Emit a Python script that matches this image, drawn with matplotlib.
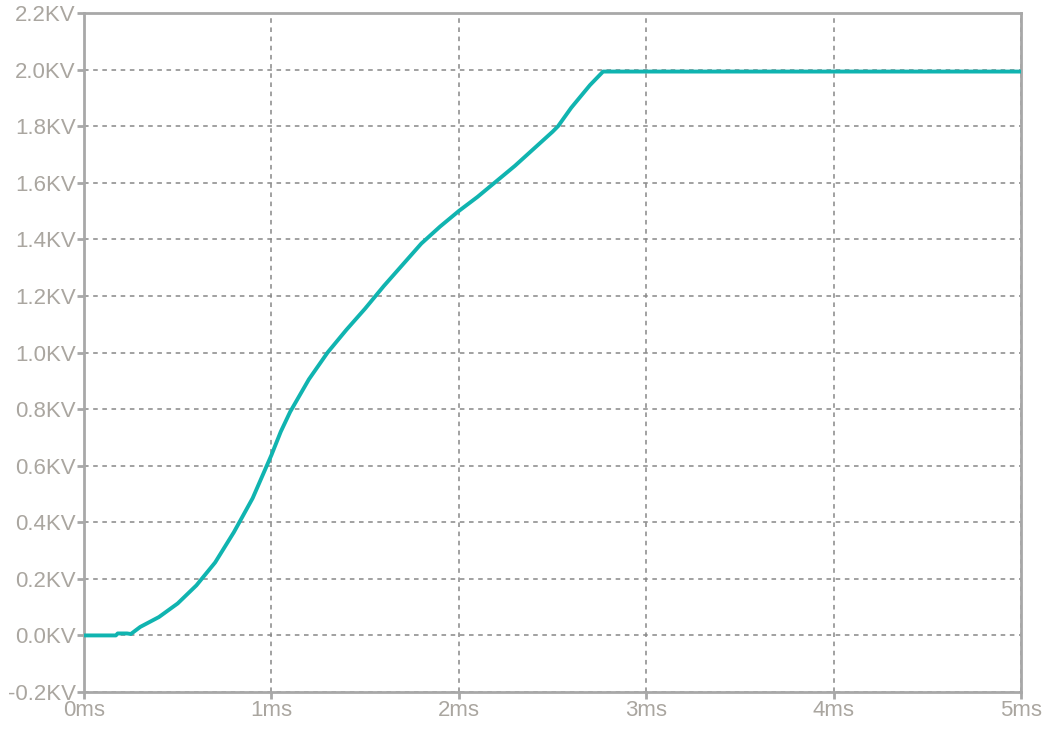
import matplotlib
matplotlib.use("Agg")
import matplotlib.pyplot as plt
from matplotlib.ticker import FuncFormatter

# waveform (time in ms, voltage in KV)
t_ms = [0.0, 0.17, 0.18, 0.23, 0.25, 0.3, 0.4, 0.5, 0.6, 0.7, 0.8, 0.9, 1.0,
        1.05, 1.1, 1.2, 1.3, 1.4, 1.5, 1.6, 1.7, 1.8, 1.9, 2.0, 2.1, 2.2,
        2.3, 2.4, 2.5, 2.53, 2.6, 2.7, 2.77, 3.0, 4.0, 5.0]
v_kv = [0.0, 0.0, 0.007, 0.007, 0.005, 0.03, 0.065, 0.113, 0.177, 0.258,
        0.365, 0.485, 0.637, 0.72, 0.79, 0.905, 1.0, 1.08, 1.155, 1.235,
        1.31, 1.385, 1.445, 1.5, 1.55, 1.605, 1.66, 1.72, 1.78, 1.8,
        1.865, 1.945, 1.993, 1.993, 1.993, 1.993]

x_ticks = [0, 1, 2, 3, 4, 5]
y_ticks = [-0.2, 0.0, 0.2, 0.4, 0.6, 0.8, 1.0, 1.2, 1.4, 1.6, 1.8, 2.0, 2.2]

plt.rcParams['font.family'] = ['Liberation Sans', 'DejaVu Sans']

fig = plt.figure(figsize=(10.42, 7.34), dpi=100)
ax = fig.add_axes([0.0806, 0.0572, 0.8992, 0.9251])

ax.plot(t_ms, v_kv, color="#10b4b0", lw=2.8, solid_joinstyle="round",
        solid_capstyle="round", zorder=3)

ax.set_xlim(0, 5)
ax.set_ylim(-0.2, 2.2)
ax.set_xticks(x_ticks)
ax.set_yticks(y_ticks)
ax.xaxis.set_major_formatter(FuncFormatter(lambda v, p: "%dms" % round(v)))
ax.yaxis.set_major_formatter(FuncFormatter(lambda v, p: "%.1fKV" % v))

ax.grid(True, color="#888888", lw=1.1, linestyle=(0, (3, 3)))
for s in ax.spines.values():
    s.set_color("#a8a8a8")
    s.set_linewidth(2)
ax.tick_params(colors="#a8a8a8", labelcolor="#aaa6a0", length=5, width=2,
               labelsize=16, pad=1)

fig.savefig("out.png", dpi=100)
